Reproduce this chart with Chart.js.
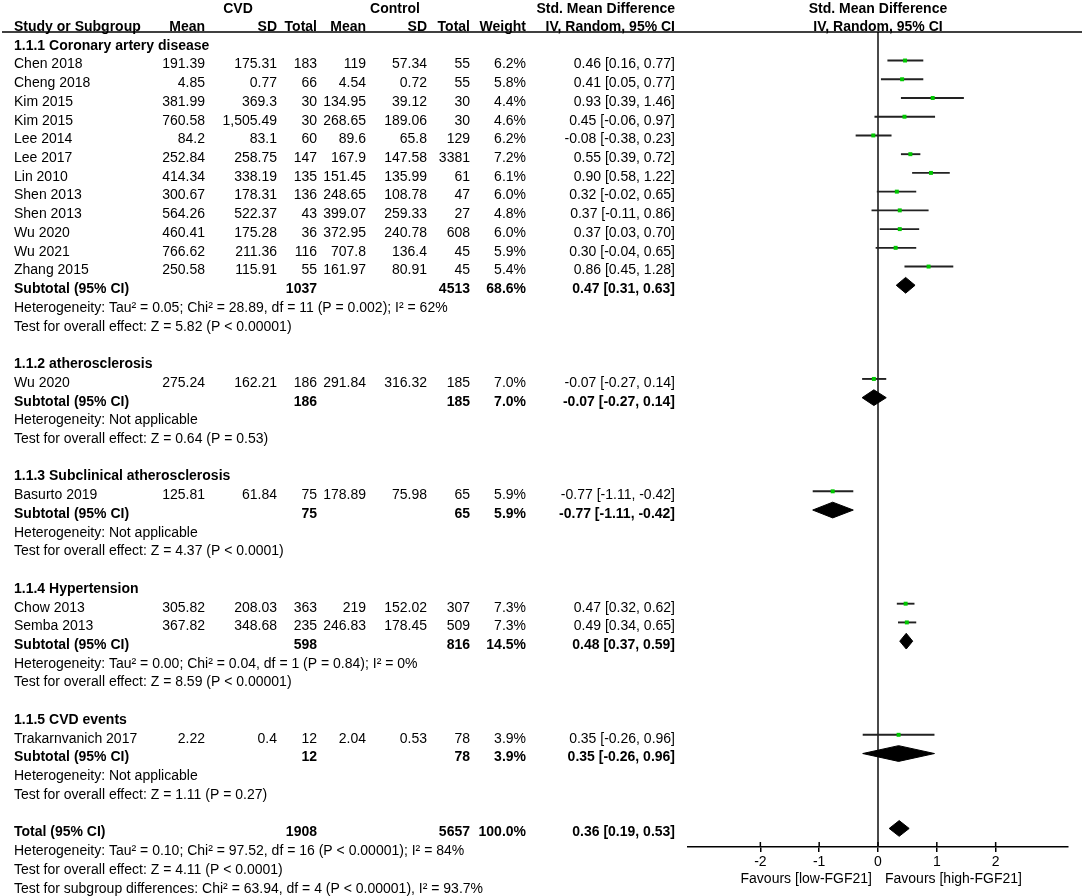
<!DOCTYPE html>
<html>
<head>
<meta charset="utf-8">
<script src="https://cdn.jsdelivr.net/npm/chart.js@4.4.1/dist/chart.umd.min.js"></script>
<style>
html,body{margin:0;padding:0;background:#fff;}
#wrap{width:1084px;height:896px;position:relative;}
</style>
</head>
<body>
<div id="wrap"><canvas id="c" width="1084" height="896"></canvas></div>
<script>
// ---------------- DATA ----------------
const studyNames = ['Chen 2018','Cheng 2018','Kim 2015','Kim 2015','Lee 2014','Lee 2017','Lin 2010','Shen 2013','Shen 2013','Wu 2020','Wu 2021','Zhang 2015',
  'Wu 2020','Basurto 2019','Chow 2013','Semba 2013','Trakarnvanich 2017'];
const studyGroup = [0,0,0,0,0,0,0,0,0,0,0,0,1,2,3,3,4];
const cvdMean = [191.39,4.85,381.99,760.58,84.2,252.84,414.34,300.67,564.26,460.41,766.62,250.58,275.24,125.81,305.82,367.82,2.22];
const cvdSD = [175.31,0.77,369.3,1505.49,83.1,258.75,338.19,178.31,522.37,175.28,211.36,115.91,162.21,61.84,208.03,348.68,0.4];
const cvdN = [183,66,30,30,60,147,135,136,43,36,116,55,186,75,363,235,12];
const ctlMean = [119,4.54,134.95,268.65,89.6,167.9,151.45,248.65,399.07,372.95,707.8,161.97,291.84,178.89,219,246.83,2.04];
const ctlSD = [57.34,0.72,39.12,189.06,65.8,147.58,135.99,108.78,259.33,240.78,136.4,80.91,316.32,75.98,152.02,178.45,0.53];
const ctlN = [55,55,30,30,129,3381,61,47,27,608,45,45,185,65,307,509,78];
const studyWeight = [6.2,5.8,4.4,4.6,6.2,7.2,6.1,6.0,4.8,6.0,5.9,5.4,7.0,5.9,7.3,7.3,3.9];
const studySMD = [0.46,0.41,0.93,0.45,-0.08,0.55,0.90,0.32,0.37,0.37,0.30,0.86,-0.07,-0.77,0.47,0.49,0.35];
const studyLow = [0.16,0.05,0.39,-0.06,-0.38,0.39,0.58,-0.02,-0.11,0.03,-0.04,0.45,-0.27,-1.11,0.32,0.34,-0.26];
const studyHigh = [0.77,0.77,1.46,0.97,0.23,0.72,1.22,0.65,0.86,0.70,0.65,1.28,0.14,-0.42,0.62,0.65,0.96];

const groupNames = ['1.1.1 Coronary artery disease','1.1.2 atherosclerosis','1.1.3 Subclinical atherosclerosis','1.1.4 Hypertension','1.1.5 CVD events'];
const groupCvdN = [1037,186,75,598,12];
const groupCtlN = [4513,185,65,816,78];
const groupWeight = [68.6,7.0,5.9,14.5,3.9];
const groupSMD = [0.47,-0.07,-0.77,0.48,0.35];
const groupLow = [0.31,-0.27,-1.11,0.37,-0.26];
const groupHigh = [0.63,0.14,-0.42,0.59,0.96];
const groupHet = [
  'Heterogeneity: Tau² = 0.05; Chi² = 28.89, df = 11 (P = 0.002); I² = 62%',
  'Heterogeneity: Not applicable',
  'Heterogeneity: Not applicable',
  'Heterogeneity: Tau² = 0.00; Chi² = 0.04, df = 1 (P = 0.84); I² = 0%',
  'Heterogeneity: Not applicable'];
const groupTest = [
  'Test for overall effect: Z = 5.82 (P < 0.00001)',
  'Test for overall effect: Z = 0.64 (P = 0.53)',
  'Test for overall effect: Z = 4.37 (P < 0.0001)',
  'Test for overall effect: Z = 8.59 (P < 0.00001)',
  'Test for overall effect: Z = 1.11 (P = 0.27)'];

const totalCvdN = [1908];
const totalCtlN = [5657];
const totalWeight = [100.0];
const totalSMD = [0.36];
const totalLow = [0.19];
const totalHigh = [0.53];
const totalLines = [
  'Heterogeneity: Tau² = 0.10; Chi² = 97.52, df = 16 (P < 0.00001); I² = 84%',
  'Test for overall effect: Z = 4.11 (P < 0.0001)',
  'Test for subgroup differences: Chi² = 63.94, df = 4 (P < 0.00001), I² = 93.7%'];

const headerTop = ['CVD','Control','Std. Mean Difference','Std. Mean Difference'];
const headerCols = ['Study or Subgroup','Mean','SD','Total','Mean','SD','Total','Weight','IV, Random, 95% CI','IV, Random, 95% CI'];
const xTicks = [-2,-1,0,1,2];
const favourLabels = ['Favours [low-FGF21]','Favours [high-FGF21]'];

// ---------------- LAYOUT (positions / styles only) ----------------
const FONT = "'Liberation Sans', Arial, Helvetica, sans-serif";
const COLX = {name:14, m1:205, s1:277, n1:317, m2:366, s2:427, n2:470, w:526, ci:675};
const TEXT_DY = 4;
const Y_MIN = -0.523, Y_MAX = 42.99;
const DIAMOND_H = 0.42;

const fmtNum = v => v.toLocaleString('en-US',{maximumFractionDigits:2});
const fmtCI = (e,l,h) => e.toFixed(2)+' ['+l.toFixed(2)+', '+h.toFixed(2)+']';

// ---------------- ROW ASSIGNMENT ----------------
const textRows = [];   // {r, bold, cells:[[text,x,align]]}
const studyRow = [];
const summaryRows = []; const summaryE = []; const summaryL = []; const summaryH = [];
let r = 0;
groupNames.forEach((g, gi) => {
  textRows.push({r, bold:true, cells:[[g, COLX.name, 'left']]});
  r++;
  studyNames.forEach((s, si) => {
    if (studyGroup[si] !== gi) return;
    studyRow[si] = r;
    textRows.push({r, bold:false, cells:[
      [s, COLX.name,'left'],
      [fmtNum(cvdMean[si]), COLX.m1,'right'],
      [fmtNum(cvdSD[si]), COLX.s1,'right'],
      [String(cvdN[si]), COLX.n1,'right'],
      [fmtNum(ctlMean[si]), COLX.m2,'right'],
      [fmtNum(ctlSD[si]), COLX.s2,'right'],
      [String(ctlN[si]), COLX.n2,'right'],
      [studyWeight[si].toFixed(1)+'%', COLX.w,'right'],
      [fmtCI(studySMD[si],studyLow[si],studyHigh[si]), COLX.ci,'right']]});
    r++;
  });
  textRows.push({r, bold:true, cells:[
    ['Subtotal (95% CI)', COLX.name,'left'],
    [String(groupCvdN[gi]), COLX.n1,'right'],
    [String(groupCtlN[gi]), COLX.n2,'right'],
    [groupWeight[gi].toFixed(1)+'%', COLX.w,'right'],
    [fmtCI(groupSMD[gi],groupLow[gi],groupHigh[gi]), COLX.ci,'right']]});
  summaryRows.push(r); summaryE.push(groupSMD[gi]); summaryL.push(groupLow[gi]); summaryH.push(groupHigh[gi]);
  textRows.push({r:r+1, bold:false, cells:[[groupHet[gi], COLX.name,'left']]});
  textRows.push({r:r+2, bold:false, cells:[[groupTest[gi], COLX.name,'left']]});
  r += 4;
});
textRows.push({r, bold:true, cells:[
  ['Total (95% CI)', COLX.name,'left'],
  [String(totalCvdN[0]), COLX.n1,'right'],
  [String(totalCtlN[0]), COLX.n2,'right'],
  [totalWeight[0].toFixed(1)+'%', COLX.w,'right'],
  [fmtCI(totalSMD[0],totalLow[0],totalHigh[0]), COLX.ci,'right']]});
summaryRows.push(r); summaryE.push(totalSMD[0]); summaryL.push(totalLow[0]); summaryH.push(totalHigh[0]);
totalLines.forEach((t, i) => textRows.push({r:r+1+i, bold:false, cells:[[t, COLX.name,'left']]}));

// ---------------- DATASETS ----------------
const datasets = [];
datasets.push({type:'line', data:[{x:0,y:Y_MIN},{x:0,y:Y_MAX}], borderColor:'#4a4a4a', borderWidth:2,
  pointRadius:0, fill:false, order:10});
studyNames.forEach((s, si) => {
  datasets.push({type:'line', data:[{x:studyLow[si],y:studyRow[si]},{x:studyHigh[si],y:studyRow[si]}],
    borderColor:'#222', borderWidth:1.9, pointRadius:0, fill:false, order:5});
});
summaryRows.forEach((rr, i) => {
  datasets.push({type:'line', data:[
      {x:summaryL[i],y:rr},{x:summaryE[i],y:rr-DIAMOND_H},{x:summaryH[i],y:rr},{x:summaryE[i],y:rr+DIAMOND_H},{x:summaryL[i],y:rr}],
    borderColor:'#000', backgroundColor:'#000', borderWidth:1, pointRadius:0, fill:'shape', tension:0, order:4});
});
datasets.push({type:'scatter', data:studyNames.map((s,si)=>({x:studySMD[si], y:studyRow[si]})),
  pointStyle:'rect', pointRadius:2.8, backgroundColor:'#00c800', borderWidth:0, order:1});

// ---------------- PLUGIN: table text & decorations ----------------
const tablePlugin = {
  id:'tablePlugin',
  afterDraw(chart){
    const ctx = chart.ctx, ys = chart.scales.y, xs = chart.scales.x, ca = chart.chartArea;
    const ty = v => ys.getPixelForValue(v) + TEXT_DY;
    ctx.save();
    ctx.fillStyle = '#000';
    ctx.textBaseline = 'middle';
    // headers
    ctx.font = 'bold 14px ' + FONT;
    const x0 = xs.getPixelForValue(0);
    const hTop = ty(-1.96), hBot = ty(-1.02);
    ctx.textAlign = 'center';
    ctx.fillText(headerTop[0], 238, hTop);
    ctx.fillText(headerTop[1], 395, hTop);
    ctx.fillText(headerTop[3], x0, hTop);
    ctx.textAlign = 'right';
    ctx.fillText(headerTop[2], COLX.ci, hTop);
    ctx.textAlign = 'left';
    ctx.fillText(headerCols[0], COLX.name, hBot);
    ctx.textAlign = 'right';
    const hx = [COLX.m1, COLX.s1, COLX.n1, COLX.m2, COLX.s2, COLX.n2, COLX.w, COLX.ci];
    hx.forEach((x, i) => ctx.fillText(headerCols[i+1], x, hBot));
    ctx.textAlign = 'center';
    ctx.fillText(headerCols[9], x0, hBot);
    // header rule
    ctx.strokeStyle = '#000'; ctx.lineWidth = 1.5;
    ctx.beginPath(); ctx.moveTo(2, ca.top); ctx.lineTo(1082, ca.top); ctx.stroke();
    // rows
    textRows.forEach(row => {
      ctx.font = (row.bold ? 'bold ' : '') + '14px ' + FONT;
      row.cells.forEach(c => { ctx.textAlign = c[2]; ctx.fillText(c[0], c[1], ty(row.r)); });
    });
    // upper halves of tick marks
    ctx.strokeStyle = '#000'; ctx.lineWidth = 1.5;
    xs.ticks.forEach(t => {
      const x = xs.getPixelForValue(t.value);
      ctx.beginPath(); ctx.moveTo(x, ca.bottom - 5); ctx.lineTo(x, ca.bottom); ctx.stroke();
    });
    // favours labels
    ctx.font = '14px ' + FONT;
    ctx.textAlign = 'right'; ctx.fillText(favourLabels[0], x0 - 6, ca.bottom + 32);
    ctx.textAlign = 'left'; ctx.fillText(favourLabels[1], x0 + 7, ca.bottom + 32);
    ctx.restore();
  }
};

new Chart(document.getElementById('c'), {
  type:'scatter',
  data:{datasets},
  options:{
    responsive:false, animation:false, devicePixelRatio:1,
    layout:{padding:{left:688, right:16, top:32, bottom:0}},
    plugins:{legend:{display:false}, tooltip:{enabled:false}},
    scales:{
      x:{type:'linear', position:'bottom', min:-3.23, max:3.23,
        afterBuildTicks: s => { s.ticks = xTicks.map(v => ({value:v})); },
        afterFit: s => { s.height = 49; },
        grid:{drawOnChartArea:false, drawTicks:true, tickLength:5, color:'#000', lineWidth:1.5},
        border:{display:true, color:'#000', width:1.5},
        ticks:{color:'#000', font:{family:FONT, size:14}, padding:2, callback:v => String(v)}},
      y:{type:'linear', display:false, reverse:true, min:Y_MIN, max:Y_MAX}
    }
  },
  plugins:[tablePlugin]
});
</script>
</body>
</html>
